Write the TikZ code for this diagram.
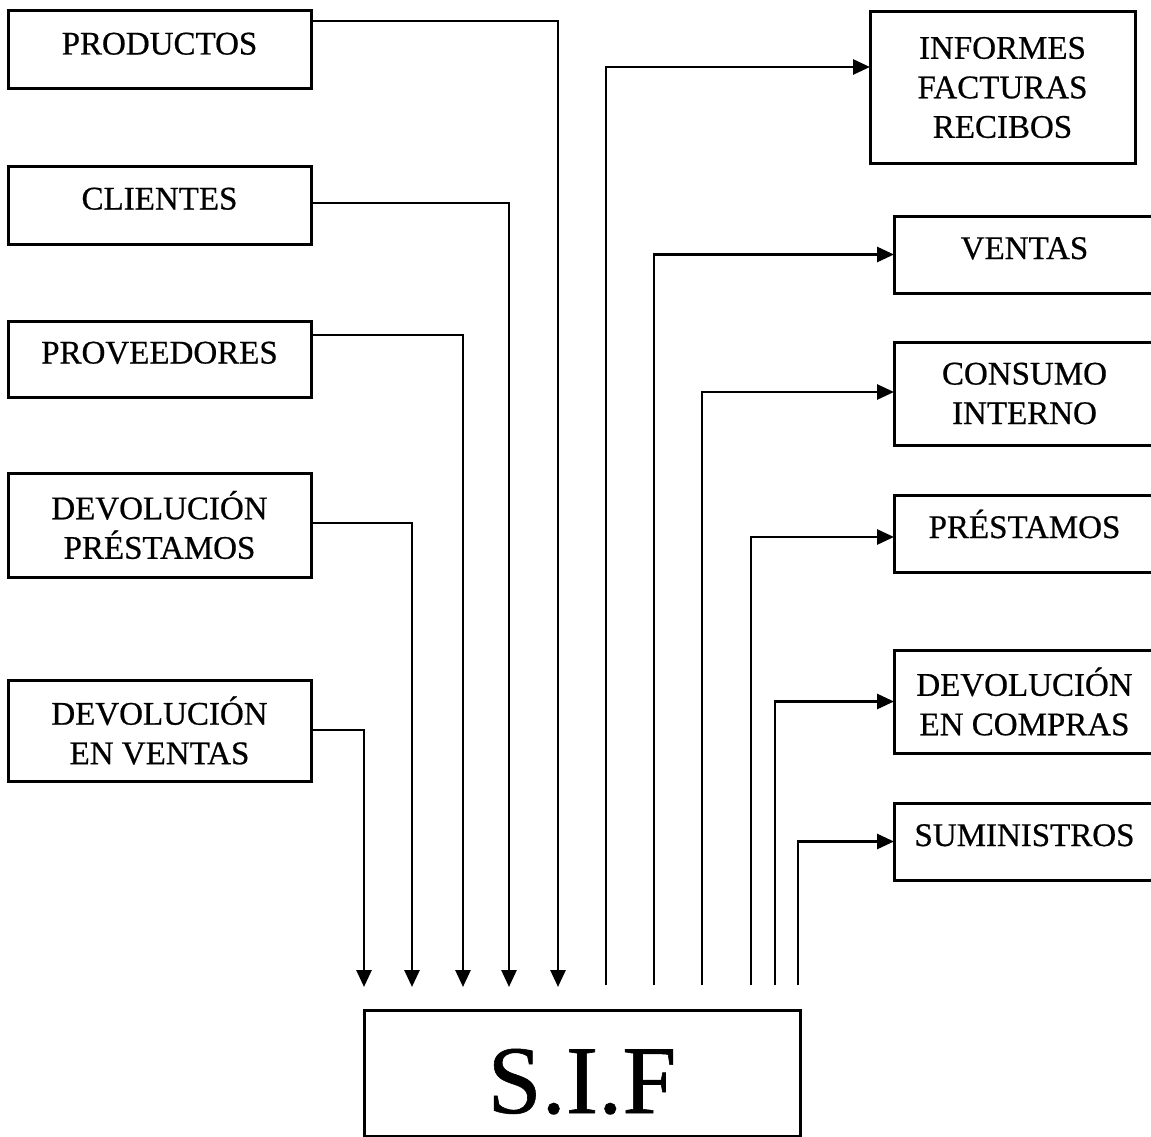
\documentclass[tikz,border=0pt]{standalone}
\usepackage{fontspec}
\setmainfont{Liberation Serif}[FakeBold=0.6]
\usetikzlibrary{arrows.meta, positioning}

\begin{document}
\begin{tikzpicture}[
        x=1pt, y=-1pt,
        box/.style={rectangle, draw, line width=3pt, align=center, inner sep=0pt, outer sep=0pt, font=\fontsize{33}{39.5}\selectfont},
        inbox/.style={box, minimum width=303pt},
        outbox/.style={box, minimum width=261pt},
        oneline/.style={text height=23pt, text depth=14pt},
        arrow/.style={line width=2.8pt, -{Triangle[length=17pt, width=15pt]}}
        ]
    \useasboundingbox (0,0) rectangle (1151,1137);
    \clip (0,0) rectangle (1151,1137);

    % entradas
    \node (prod) [inbox, oneline, minimum height=78pt] at (159.5,50) {PRODUCTOS};
    \node (cli) [inbox, oneline, minimum height=78pt, below=77pt of prod] {CLIENTES};
    \node (prov) [inbox, oneline, minimum height=76pt, below=77pt of cli] {PROVEEDORES};
    \node (devpres) [inbox, minimum height=104pt, below=76pt of prov] {DEVOLUCIÓN\\PRÉSTAMOS};
    \node (devven) [inbox, minimum height=101pt, below=103pt of devpres] {DEVOLUCIÓN\\EN VENTAS};

    % salidas
    \node (inf) [box, minimum width=265pt, minimum height=151pt] at (1002.5,87.5) {INFORMES\\FACTURAS\\RECIBOS};
    \node (ven) [outbox, oneline, minimum height=77pt, below=53pt of inf, xshift=22pt] {VENTAS};
    \node (cons) [outbox, minimum height=103pt, below=49pt of ven] {CONSUMO\\INTERNO};
    \node (pres) [outbox, oneline, minimum height=77pt, below=50pt of cons] {PRÉSTAMOS};
    \node (devcom) [outbox, minimum height=103pt, below=78pt of pres] {DEVOLUCIÓN\\EN COMPRAS};
    \node (sum) [outbox, oneline, minimum height=77pt, below=50pt of devcom] {SUMINISTROS};

    \node (sif) [box, minimum width=436pt, minimum height=126pt, text height=80pt, text depth=0pt, font=\fontsize{97}{97}\selectfont] at (582,1073) {S.I.F};

    % puntas sobre S.I.F
    \coordinate (t1) at (364,987);
    \coordinate (t2) at (412,987);
    \coordinate (t3) at (463,987);
    \coordinate (t4) at (509,987);
    \coordinate (t5) at (558,987);
    \coordinate (s1) at (606,985);
    \coordinate (s2) at (654,985);
    \coordinate (s3) at (702,985);
    \coordinate (s4) at (751,985);
    \coordinate (s5) at (775,985);
    \coordinate (s6) at (798,985);

    \draw [arrow] ([yshift=29pt]prod.east) -| (t5);
    \draw [arrow] ([yshift=2pt]cli.east) -| (t4);
    \draw [arrow] ([yshift=24pt]prov.east) -| (t3);
    \draw [arrow] ([yshift=2pt]devpres.east) -| (t2);
    \draw [arrow] ([yshift=0.5pt]devven.east) -| (t1);

    \draw [arrow] (s1) |- ([yshift=20.5pt]inf.west);
    \draw [arrow] (s2) |- (ven.west);
    \draw [arrow] (s3) |- ([yshift=1.5pt]cons.west);
    \draw [arrow] (s4) |- ([yshift=-3.5pt]pres.west);
    \draw [arrow] (s5) |- (devcom.west);
    \draw [arrow] (s6) |- (sum.west);

\end{tikzpicture}
\end{document}
